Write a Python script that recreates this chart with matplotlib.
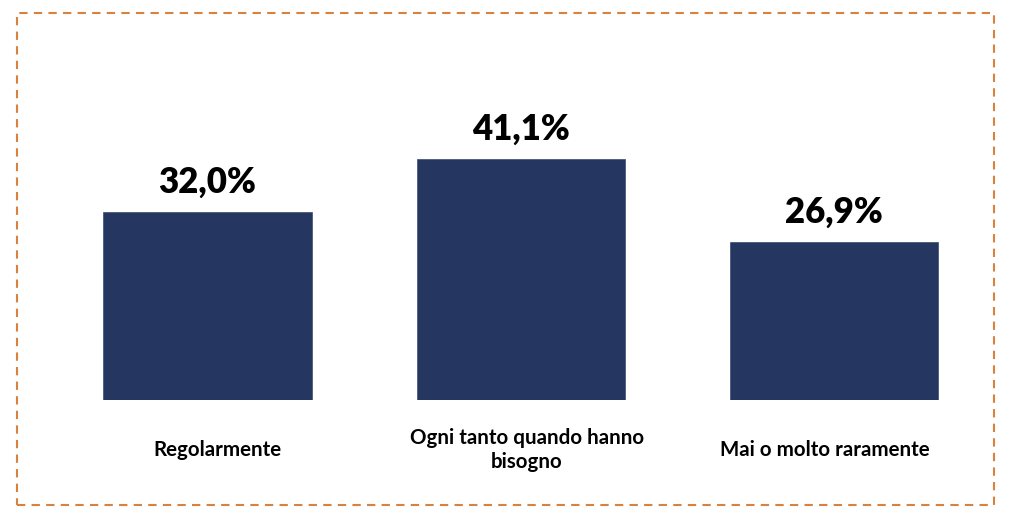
import matplotlib
matplotlib.use("Agg")
import matplotlib.pyplot as plt
from matplotlib.patches import Rectangle

categories = ["Regolarmente", "Ogni tanto quando hanno\nbisogno", "Mai o molto raramente"]
values = [32.0, 41.1, 26.9]
value_labels = ["32,0%", "41,1%", "26,9%"]

plt.rcParams['font.family'] = ['Lato', 'DejaVu Sans']

W, H = 1024, 522
fig = plt.figure(figsize=(W / 100, H / 100), dpi=100)
fig.patch.set_facecolor("white")

# dashed orange frame
frame = Rectangle((17 / W, 1 - 505 / H), (994 - 17) / W, (505 - 13) / H,
                  transform=fig.transFigure, fill=False, edgecolor="#D9823F",
                  linewidth=1.5, linestyle=(0, (4, 3)))
fig.add_artist(frame)

ax = fig.add_axes([50.75 / W, (H - 400) / H, 940 / W, 293.5 / H])
x = list(range(len(categories)))
ax.bar(x, values, width=0.665, color="#253760", edgecolor="#3a4a72", linewidth=0.5)
ax.set_xlim(-0.5, 2.5)
ax.set_ylim(0, 50)
ax.axis("off")

for xi, v, lab in zip(x, values, value_labels):
    ax.annotate(lab, (xi, v), xytext=(0, 13), textcoords="offset pixels",
                ha="center", va="bottom", fontsize=25, fontweight="heavy", color="black")

label_shift = [10, 6, -9]
for xi, cat, dx in zip(x, categories, label_shift):
    ax.annotate(cat, (xi, 0), xytext=(dx, -50), textcoords="offset pixels",
                ha="center", va="center", multialignment="center",
                fontsize=14.8, fontweight="bold", color="black", linespacing=1.2)

fig.savefig("out.png", dpi=100, facecolor="white")
